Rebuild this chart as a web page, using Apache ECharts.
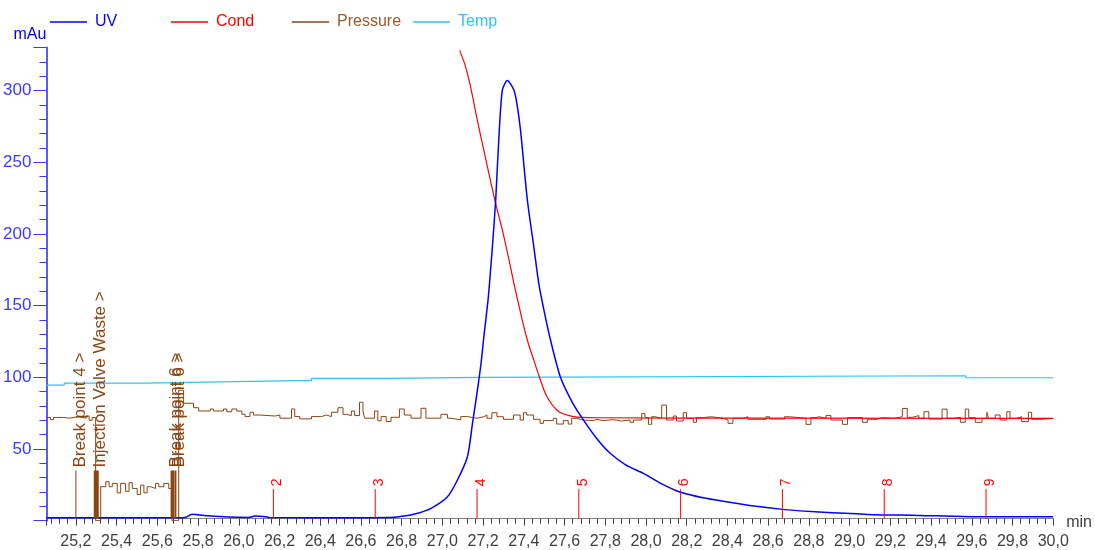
<!DOCTYPE html>
<html>
<head>
<meta charset="utf-8">
<script src="https://cdn.jsdelivr.net/npm/echarts@6/dist/echarts.min.js"></script>
<style>
  html, body { margin: 0; padding: 0; background: #fff; }
  #chart { width: 1095px; height: 550px; }
</style>
</head>
<body>
<div id="chart"></div>
<script>
// UV trace [min, mAu]
const uvData = [
  [25.055, 2], [25.70, 2], [25.74, 2.4], [25.77, 4.5], [25.80, 4.2], [25.85, 3.4], [25.95, 2.5],
  [26.05, 2.3], [26.08, 3.2], [26.12, 3.0], [26.15, 2.3], [26.50, 2.0], [26.764, 2.4], [26.82, 3.4],
  [26.88, 5.2], [26.944, 8.6], [27.025, 16.7], [27.074, 28.4], [27.123, 44.6], [27.148, 68],
  [27.172, 91], [27.19, 110], [27.205, 130], [27.225, 155], [27.245, 190], [27.262, 224],
  [27.274, 258], [27.294, 300], [27.319, 307], [27.352, 300], [27.368, 289], [27.384, 272],
  [27.417, 224], [27.449, 191], [27.474, 165], [27.50, 146], [27.531, 126], [27.58, 100],
  [27.64, 82], [27.694, 70], [27.76, 57], [27.824, 47], [27.90, 39], [27.987, 33], [28.08, 25.5],
  [28.166, 20], [28.28, 16], [28.395, 13.2], [28.53, 10.2], [28.67, 7.9], [28.85, 6.0],
  [29.09, 4.4], [29.34, 3.7], [29.60, 2.8], [30.0, 2.7]
];

// Conductivity trace
const condData = [
  [27.085, 328], [27.123, 312], [27.172, 279], [27.221, 247], [27.262, 221], [27.294, 203],
  [27.327, 182], [27.352, 165], [27.384, 145], [27.417, 126], [27.449, 112], [27.482, 98],
  [27.514, 86.5], [27.563, 77], [27.612, 73.7], [27.661, 72.3], [27.78, 71.8], [28.5, 71.5], [30.0, 71.4]
];

// Pressure trace (stepped)
const pressureData = [
  [25.055, 72], [25.075, 70.5], [25.09, 72], [25.14, 71.5], [25.17, 72.5], [25.21, 71.5], [25.25, 73],
  [25.265, 70], [25.28, 72], [25.297, 0],
  [25.322, 23.7], [25.347, 27.2], [25.363, 23.7], [25.379, 26], [25.403, 19.4], [25.42, 26],
  [25.444, 20.5], [25.461, 26.5], [25.477, 22.5], [25.501, 18.3], [25.518, 24.8], [25.534, 19.4],
  [25.55, 23.7], [25.567, 22.5], [25.591, 26], [25.607, 23.7], [25.632, 26], [25.656, 22.5],
  [25.672, 0],
  [25.705, 91], [25.729, 81.9], [25.778, 78.8], [25.803, 76.5], [25.86, 77.9], [25.876, 76.5],
  [25.925, 77.9], [25.941, 76], [25.966, 77.9], [25.99, 76.5], [26.015, 74.2], [26.031, 72.6],
  [26.055, 75.6], [26.072, 73.7], [26.104, 73], [26.178, 73.7], [26.202, 71.5], [26.259, 77.9],
  [26.275, 72.6], [26.3, 71], [26.357, 72.6], [26.406, 73.7], [26.43, 72.6], [26.455, 75.6],
  [26.487, 78.8], [26.512, 74.2], [26.528, 73.3], [26.553, 76.5], [26.569, 73.3], [26.593, 82.6],
  [26.61, 76.5], [26.618, 71.5], [26.667, 76.5], [26.683, 69.7], [26.699, 72.6], [26.724, 69.2],
  [26.748, 72.1], [26.789, 77.9], [26.813, 73.7], [26.846, 71.5], [26.895, 78.4], [26.919, 71.5],
  [26.993, 74.2], [27.025, 71.5], [27.042, 70.3], [27.09, 72.6], [27.123, 71.5],
  [27.17, 72.5], [27.203, 73.7], [27.219, 71.4], [27.243, 75.3], [27.268, 72.5], [27.3, 70.7],
  [27.349, 73.7], [27.382, 70.2], [27.398, 75.3], [27.414, 73.7], [27.447, 70.7], [27.48, 67.9],
  [27.496, 69.8], [27.545, 71.4], [27.561, 67.4], [27.594, 69.8], [27.618, 67.4], [27.635, 71.4],
  [27.659, 70.2], [27.692, 69.8], [27.74, 70.7], [27.759, 69.8], [27.79, 70.5], [27.84, 69.5],
  [27.88, 70.2], [27.922, 68.6], [27.938, 70.2], [27.979, 74.8], [27.995, 71.9], [28.012, 67.2],
  [28.028, 72.5], [28.044, 71.4], [28.077, 80.6], [28.101, 70.2], [28.134, 73], [28.15, 69.5],
  [28.183, 75.3], [28.199, 71.4], [28.232, 68.6], [28.248, 71.9], [28.281, 72.5], [28.321, 71.4],
  [28.378, 70.2], [28.403, 67.9], [28.427, 71.4], [28.476, 72.5], [28.5, 70.7], [28.59, 72.5],
  [28.607, 70.9], [28.68, 72.5], [28.704, 71.4], [28.786, 67.2], [28.81, 71.9], [28.835, 72.5],
  [28.851, 71.4], [28.884, 73.3], [28.908, 70.2], [28.965, 67.2], [28.99, 71.9], [29.063, 68.6],
  [29.087, 70.7], [29.136, 71.9], [29.161, 71.4], [29.218, 72.5], [29.259, 78.3], [29.283, 72.1],
  [29.308, 73.3], [29.34, 71.4], [29.365, 76], [29.389, 70.9], [29.454, 77.8], [29.479, 71.4],
  [29.511, 72.1], [29.544, 68.6], [29.568, 77.8], [29.585, 71.9], [29.617, 68.6], [29.65, 71.4],
  [29.674, 75.6], [29.682, 71.4], [29.715, 73.7], [29.739, 70.2], [29.772, 76], [29.788, 71.4],
  [29.821, 72.5], [29.845, 69.1], [29.878, 75.6], [29.894, 70.7], [29.943, 71.4], [30.0, 71.4]
];

// Temperature trace (stepped)
const tempData = [
  [25.055, 94.6], [25.143, 96.0], [25.544, 97.0], [25.985, 97.9], [26.357, 99.3],
  [26.73, 100.0], [27.187, 101.1], [29.57, 99.7], [30.0, 99.7]
];

// run log events
const eventTimes = [25.2, 25.3, 25.675, 25.69];
const eventLabels = ['Break point 4 >', 'Injection Valve Waste >', 'Break point 6 >', 'Break point 6 >'];
const eventHeight = 35;

// fraction marks
const fractionTimes = [26.17, 26.67, 27.17, 27.67, 28.17, 28.67, 29.17, 29.67];
const fractionLabels = ['2', '3', '4', '5', '6', '7', '8', '9'];
const fractionHeight = 22;

const seriesNames = ['UV', 'Cond', 'Pressure', 'Temp'];

const FONT = "'Liberation Sans', Arial, sans-serif";
const BLUE = '#0000ff';
const RED = '#ff0000';
const BROWN = '#8b4513';
const CYAN = '#2cc4f2';
const legendText = [BLUE, RED, '#9a5a2a', CYAN];

function markerRenderer(color, widths, fontSize) {
  return function (params, api) {
    const t = api.value(0);
    const h = api.value(1);
    const p0 = api.coord([t, 1.5]);
    const p1 = api.coord([t, h]);
    const w = widths ? widths[params.dataIndex] : 1;
    return {
      type: 'group',
      children: [
        {
          type: 'line',
          shape: { x1: p0[0], y1: p0[1], x2: p1[0], y2: p1[1] },
          style: { stroke: color, lineWidth: w }
        },
        {
          type: 'text',
          x: p1[0] + 4,
          y: p1[1] - 3,
          rotation: Math.PI / 2,
          style: {
            text: api.value(2),
            x: 0, y: 0,
            align: 'left',
            verticalAlign: 'middle',
            fill: color,
            font: fontSize + 'px ' + FONT
          }
        }
      ]
    };
  };
}

const chart = echarts.init(document.getElementById('chart'), null, { renderer: 'canvas' });

// one legend per trace, spaced like the instrument software
const legends = seriesNames.map((name, i) => ({
  left: 50 + i * 121,
  top: 14,
  padding: 0,
  icon: 'rect',
  itemWidth: 37,
  itemHeight: 1.3,
  textStyle: { fontSize: 16, color: legendText[i], padding: [0, 0, 0, 3], fontFamily: FONT },
  data: [name]
}));

chart.setOption({
  animation: false,
  backgroundColor: '#fff',
  textStyle: { fontFamily: FONT },
  grid: { left: 46, right: 36, top: 47.5, bottom: 29.3 },
  legend: legends,
  xAxis: {
    type: 'value',
    min: 25.055,
    max: 30.0,
    splitNumber: 25,
    offset: -2,
    name: 'min',
    nameLocation: 'end',
    nameGap: 13,
    nameTextStyle: { color: '#404040', fontSize: 16, align: 'left', verticalAlign: 'top', lineHeight: 8 },
    axisLine: { onZero: false, lineStyle: { color: '#808080', width: 1 } },
    axisTick: { length: 7, lineStyle: { color: '#404040' } },
    minorTick: { show: true, splitNumber: 5, length: 5, lineStyle: { color: '#404040' } },
    axisLabel: {
      color: '#404040', fontSize: 16, margin: 15,
      showMinLabel: false,
      formatter: v => v.toFixed(1).replace('.', ',')
    },
    splitLine: { show: false }
  },
  yAxis: {
    type: 'value',
    min: 0,
    max: 330,
    interval: 50,
    name: 'mAu',
    nameLocation: 'end',
    nameGap: 12.5,
    nameTextStyle: { color: BLUE, fontSize: 16, align: 'right', verticalAlign: 'middle' },
    axisLine: { show: true, lineStyle: { color: '#5a5aff', width: 2 } },
    axisTick: { show: true, length: 13, lineStyle: { color: '#3a3aff' } },
    minorTick: { show: true, splitNumber: 5, length: 7, lineStyle: { color: '#3a3aff' } },
    axisLabel: {
      color: '#3a3aff', fontSize: 17, margin: 15,
      showMaxLabel: false,
      formatter: v => (v === 0 ? '' : String(v))
    },
    splitLine: { show: false }
  },
  series: [
    {
      name: 'UV', type: 'line', data: uvData, symbol: 'none', smooth: 0.25,
      lineStyle: { color: BLUE, width: 1.5 }, itemStyle: { color: BLUE }, z: 5
    },
    {
      name: 'Cond', type: 'line', data: condData, symbol: 'none', smooth: true,
      lineStyle: { color: RED, width: 1.2 }, itemStyle: { color: RED }, z: 4
    },
    {
      name: 'Pressure', type: 'line', data: pressureData, symbol: 'none', step: 'end',
      lineStyle: { color: BROWN, width: 1 }, itemStyle: { color: BROWN }, z: 3
    },
    {
      name: 'Temp', type: 'line', data: tempData, symbol: 'none', step: 'end',
      lineStyle: { color: CYAN, width: 1.2 }, itemStyle: { color: CYAN }, z: 2
    },
    {
      name: 'events', type: 'custom', silent: true, z: 6,
      data: eventTimes.map((t, i) => [t, eventHeight, eventLabels[i]]),
      renderItem: markerRenderer(BROWN, [1, 5, 4, 1.5], 17)
    },
    {
      name: 'fractions', type: 'custom', silent: true, z: 6,
      data: fractionTimes.map((t, i) => [t, fractionHeight, fractionLabels[i]]),
      renderItem: markerRenderer(RED, null, 14)
    }
  ]
});
</script>
</body>
</html>
